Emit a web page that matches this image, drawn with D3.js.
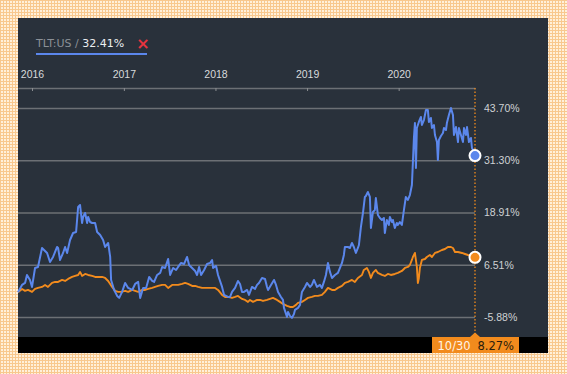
<!DOCTYPE html>
<html>
<head>
<meta charset="utf-8">
<script src="https://cdn.jsdelivr.net/npm/d3@7"></script>
<style>
  html, body { margin: 0; padding: 0; background: #fde6c8; }
  svg { display: block; }
</style>
</head>
<body>
<script>
// data: [decimal year, cumulative return %]
var tltSeries = [
  [2015.847, 0], [2015.891, 1.73], [2015.924, 2.20], [2015.945, 4.09], [2015.978, 2.91],
  [2016.000, 1.25], [2016.033, 5.75], [2016.065, 5.99], [2016.109, 10.49], [2016.131, 10.02],
  [2016.164, 9.31], [2016.196, 7.17], [2016.229, 8.36], [2016.273, 10.73], [2016.284, 10.49],
  [2016.305, 7.65], [2016.338, 9.31], [2016.360, 10.73], [2016.382, 9.31], [2016.414, 12.39],
  [2016.447, 14.05], [2016.480, 14.29], [2016.502, 20.22], [2016.523, 20.69], [2016.545, 16.42],
  [2016.556, 17.85], [2016.578, 18.79], [2016.600, 16.42], [2016.611, 17.85], [2016.632, 16.66],
  [2016.654, 16.42], [2016.687, 16.42], [2016.709, 14.29], [2016.742, 13.57], [2016.774, 12.39],
  [2016.796, 10.73], [2016.829, 11.68], [2016.851, 8.36], [2016.861, 2.91], [2016.894, 0.54],
  [2016.927, -0.88], [2016.949, -1.35], [2016.981, 0.07], [2017.014, 2.20], [2017.047, 1.02],
  [2017.091, 0.54], [2017.123, 1.96], [2017.156, 2.44], [2017.178, -1.35], [2017.210, 1.02],
  [2017.243, 1.02], [2017.276, 3.62], [2017.309, 2.67], [2017.330, 2.44], [2017.363, 4.09],
  [2017.396, 4.57], [2017.418, 5.99], [2017.450, 5.75], [2017.483, 7.88], [2017.505, 4.09],
  [2017.538, 5.75], [2017.570, 5.28], [2017.592, 5.99], [2017.625, 6.94], [2017.658, 6.70],
  [2017.690, 8.36], [2017.712, 6.46], [2017.745, 5.75], [2017.778, 5.04], [2017.799, 4.09],
  [2017.821, 5.99], [2017.843, 4.09], [2017.876, 5.28], [2017.908, 6.70], [2017.941, 6.94],
  [2017.963, 7.65], [2017.974, 5.75], [2018.007, 6.23], [2018.028, 4.09], [2018.072, 1.25],
  [2018.094, -0.64], [2018.137, -1.12], [2018.159, -1.12], [2018.181, 0.07], [2018.214, 1.02],
  [2018.246, 2.67], [2018.268, 1.96], [2018.290, 0.07], [2018.312, 0.07], [2018.345, 0.54],
  [2018.366, -0.64], [2018.399, 1.25], [2018.432, 0.78], [2018.454, 1.73], [2018.475, 2.20],
  [2018.508, 3.38], [2018.541, 3.15], [2018.563, 1.25], [2018.574, 0.54], [2018.606, 1.73],
  [2018.639, 2.91], [2018.661, 1.73], [2018.683, 0.07], [2018.715, -1.12], [2018.737, -1.83],
  [2018.748, -3.72], [2018.770, -5.15], [2018.781, -5.86], [2018.792, -4.67], [2018.813, -5.62],
  [2018.835, -6.09], [2018.857, -5.15], [2018.868, -4.20], [2018.901, -3.72], [2018.923, -3.01],
  [2018.944, 0.07], [2018.977, 1.25], [2018.999, 2.20], [2019.032, 1.25], [2019.053, 1.73],
  [2019.075, 2.91], [2019.108, 1.25], [2019.141, 1.73], [2019.162, 1.02], [2019.184, 2.44],
  [2019.206, 4.09], [2019.228, 6.94], [2019.250, 4.81], [2019.272, 3.38], [2019.304, 4.09],
  [2019.337, 4.57], [2019.381, 6.94], [2019.402, 8.83], [2019.413, 10.73], [2019.446, 10.73],
  [2019.468, 10.49], [2019.490, 11.68], [2019.511, 10.73], [2019.533, 9.31], [2019.555, 10.49],
  [2019.566, 11.20], [2019.588, 15.48], [2019.610, 18.79], [2019.631, 22.59], [2019.642, 22.82],
  [2019.664, 23.77], [2019.686, 22.59], [2019.697, 15.24], [2019.719, 19.03], [2019.740, 19.50],
  [2019.751, 22.35], [2019.773, 18.32], [2019.795, 17.61], [2019.817, 17.13], [2019.839, 17.61],
  [2019.849, 14.05], [2019.871, 17.13], [2019.893, 15.95], [2019.904, 17.85], [2019.926, 16.66],
  [2019.937, 17.13], [2019.958, 15.24], [2019.980, 16.42], [2019.991, 15.95], [2020.013, 16.66],
  [2020.035, 15.95], [2020.057, 19.50], [2020.078, 22.59], [2020.100, 21.88], [2020.122, 23.06],
  [2020.144, 25.43], [2020.155, 30.89], [2020.166, 36.58], [2020.177, 40.14], [2020.188, 29.47],
  [2020.198, 38.96], [2020.220, 40.38], [2020.242, 41.57], [2020.253, 39.67], [2020.275, 40.85],
  [2020.297, 43.23], [2020.318, 43.23], [2020.329, 40.38], [2020.351, 41.33], [2020.362, 38.96],
  [2020.384, 39.67], [2020.395, 37.30], [2020.417, 35.63], [2020.427, 31.36], [2020.438, 36.11],
  [2020.460, 37.06], [2020.482, 37.77], [2020.493, 38.96], [2020.515, 38.48], [2020.525, 40.14],
  [2020.547, 42.04], [2020.569, 43.70], [2020.591, 42.04], [2020.602, 37.30], [2020.624, 39.19],
  [2020.646, 35.63], [2020.656, 38.96], [2020.678, 37.30], [2020.700, 35.63], [2020.711, 38.96],
  [2020.733, 37.30], [2020.744, 39.19], [2020.765, 35.63], [2020.787, 36.58], [2020.798, 34.21],
  [2020.820, 33.30], [2020.831, 32.41]
];

var compareSeries = [
  [2015.847, 0], [2015.891, 0.78], [2015.924, 0.31], [2015.956, 0.54], [2016.000, 0.07],
  [2016.033, 0.78], [2016.065, 1.02], [2016.109, 1.25], [2016.142, 1.73], [2016.174, 1.25],
  [2016.218, 2.20], [2016.251, 2.44], [2016.284, 2.44], [2016.327, 2.91], [2016.360, 2.67],
  [2016.393, 3.15], [2016.436, 3.62], [2016.469, 3.86], [2016.502, 4.09], [2016.523, 4.81],
  [2016.545, 3.86], [2016.578, 4.33], [2016.611, 4.09], [2016.654, 3.86], [2016.687, 3.62],
  [2016.720, 3.62], [2016.763, 3.62], [2016.796, 3.38], [2016.829, 2.67], [2016.872, 1.25],
  [2016.905, 0.31], [2016.938, 0.07], [2016.971, 0.07], [2017.014, 0.31], [2017.047, 0.07],
  [2017.091, 0.54], [2017.123, 0.31], [2017.156, 0.07], [2017.200, 0.54], [2017.232, 0.54],
  [2017.265, 0.78], [2017.309, 1.02], [2017.341, 1.25], [2017.374, 1.49], [2017.418, 1.73],
  [2017.450, 1.73], [2017.483, 1.02], [2017.527, 1.73], [2017.559, 1.73], [2017.592, 1.73],
  [2017.636, 1.96], [2017.668, 2.20], [2017.701, 1.96], [2017.745, 1.49], [2017.778, 1.49],
  [2017.810, 1.25], [2017.854, 1.02], [2017.887, 1.02], [2017.919, 1.02], [2017.963, 1.02],
  [2017.996, 1.02], [2018.028, 0.54], [2018.072, -0.64], [2018.105, -1.12], [2018.137, -1.12],
  [2018.181, -1.35], [2018.214, -1.12], [2018.246, -0.88], [2018.290, -1.59], [2018.323, -1.83],
  [2018.355, -2.30], [2018.377, -1.83], [2018.410, -2.30], [2018.454, -1.83], [2018.486, -1.83],
  [2018.519, -2.07], [2018.563, -1.83], [2018.595, -1.59], [2018.628, -1.35], [2018.672, -1.83],
  [2018.704, -2.30], [2018.737, -2.78], [2018.781, -3.25], [2018.813, -3.49], [2018.846, -3.49],
  [2018.879, -3.01], [2018.901, -2.54], [2018.944, -2.30], [2018.977, -1.83], [2019.010, -1.35],
  [2019.053, -1.12], [2019.086, -0.88], [2019.119, -0.88], [2019.162, -0.64], [2019.195, 0.07],
  [2019.228, 1.02], [2019.272, 0.54], [2019.304, 0.54], [2019.337, 1.02], [2019.381, 1.49],
  [2019.413, 2.20], [2019.446, 2.44], [2019.490, 2.91], [2019.522, 2.44], [2019.555, 3.38],
  [2019.599, 4.09], [2019.620, 5.28], [2019.653, 5.75], [2019.675, 4.81], [2019.697, 3.38],
  [2019.719, 4.57], [2019.751, 5.28], [2019.773, 4.57], [2019.817, 4.09], [2019.849, 3.86],
  [2019.882, 4.33], [2019.915, 4.09], [2019.958, 4.33], [2019.991, 4.57], [2020.035, 5.04],
  [2020.068, 5.75], [2020.100, 5.99], [2020.122, 6.46], [2020.144, 7.65], [2020.155, 8.36],
  [2020.177, 9.31], [2020.198, 5.99], [2020.209, 2.20], [2020.220, 3.38], [2020.231, 5.75],
  [2020.253, 7.65], [2020.286, 7.88], [2020.307, 8.36], [2020.340, 8.83], [2020.362, 8.36],
  [2020.395, 9.31], [2020.427, 9.54], [2020.471, 10.02], [2020.504, 10.25], [2020.536, 10.73],
  [2020.569, 10.73], [2020.591, 10.49], [2020.613, 9.54], [2020.646, 9.54], [2020.689, 9.31],
  [2020.722, 9.07], [2020.755, 8.83], [2020.798, 8.59], [2020.831, 8.27]
];

var yearTicks = [2016, 2017, 2018, 2019, 2020];
var gridValues = [43.70, 31.30, 18.91, 6.51, -5.88];
var legendName = "TLT:US / ";
var legendValue = "32.41%";
var lastDateLabel = "10/30";
var lastCompareLabel = "8.27%";

// decimal year -> Date
function toDate(t) {
  var yr = Math.floor(t);
  var a = new Date(yr, 0, 1), b = new Date(yr + 1, 0, 1);
  return new Date(+a + (t - yr) * (b - a));
}

var W = 567, H = 374;
var blue = "#5b87ec", orange = "#f28b1d";

var svg = d3.select("body").append("svg")
  .attr("width", W)
  .attr("height", H)
  .style("font-family", "'DejaVu Sans', Verdana, sans-serif");

// checkered orange background
var defs = svg.append("defs");
var pat = defs.append("pattern")
  .attr("id", "bg")
  .attr("width", 3).attr("height", 3)
  .attr("patternUnits", "userSpaceOnUse");
pat.append("rect").attr("width", 3).attr("height", 3).attr("fill", "#fff0da");
pat.append("rect").attr("width", 3).attr("height", 1).attr("fill", "#f8c88e");
pat.append("rect").attr("width", 1).attr("height", 3).attr("fill", "#f8c88e");

svg.append("rect").attr("width", W).attr("height", H).attr("fill", "url(#bg)");

// dark panel
svg.append("rect")
  .attr("x", 18).attr("y", 18)
  .attr("width", 530).attr("height", 335)
  .attr("fill", "#29313b");

svg.append("rect")
  .attr("x", 18).attr("y", 337)
  .attr("width", 530).attr("height", 16)
  .attr("fill", "#000");

var x = d3.scaleTime()
  .domain([toDate(tltSeries[0][0]), toDate(tltSeries[tltSeries.length - 1][0])])
  .range([18, 475]);

var y = d3.scaleLinear()
  .domain([-5.88, 43.70])
  .range([317, 108]);

// gridlines + right labels
var yAxis = d3.axisRight(y)
  .tickValues(gridValues)
  .tickSize(-(475 - 18))
  .tickPadding(9)
  .tickFormat(function(d) { return d.toFixed(2) + "%"; });

var gy = svg.append("g")
  .attr("transform", "translate(475,0)")
  .call(yAxis);
gy.select(".domain").remove();
gy.selectAll("line").attr("stroke", "#6c7075").attr("stroke-width", 1.6);
gy.selectAll("text").attr("fill", "#cfd1d4").style("font-size", "10.5px");

// top time axis
var xAxis = d3.axisTop(x)
  .tickValues(yearTicks.map(function(yr) { return new Date(yr, 0, 1); }))
  .tickSize(-3)
  .tickSizeOuter(0)
  .tickPadding(10)
  .tickFormat(d3.timeFormat("%Y"));

var gx = svg.append("g")
  .attr("transform", "translate(0,88)")
  .call(xAxis);
gx.select(".domain").attr("stroke", "#6c7075").attr("stroke-width", 1.6);
gx.selectAll("line").attr("stroke", "#8a8d91");
gx.selectAll("text").attr("fill", "#d8dadc").style("font-size", "10.5px");

// dotted cursor line at last date
var lastX = x(toDate(tltSeries[tltSeries.length - 1][0]));
svg.append("line")
  .attr("x1", lastX).attr("x2", lastX)
  .attr("y1", 88).attr("y2", 337)
  .attr("stroke", orange)
  .attr("stroke-width", 1.3)
  .attr("stroke-dasharray", "1.5,2");

var line = d3.line()
  .x(function(d) { return x(toDate(d[0])); })
  .y(function(d) { return y(d[1]); });

svg.append("path")
  .datum(compareSeries)
  .attr("d", line)
  .attr("fill", "none")
  .attr("stroke", orange)
  .attr("stroke-width", 1.9)
  .attr("stroke-linejoin", "round");

svg.append("path")
  .datum(tltSeries)
  .attr("d", line)
  .attr("fill", "none")
  .attr("stroke", blue)
  .attr("stroke-width", 2)
  .attr("stroke-linejoin", "round");

// end markers
[[tltSeries, blue], [compareSeries, orange]].forEach(function(s) {
  var last = s[0][s[0].length - 1];
  svg.append("circle")
    .attr("cx", x(toDate(last[0])))
    .attr("cy", y(last[1]))
    .attr("r", 5.5)
    .attr("fill", s[1])
    .attr("stroke", "#fff")
    .attr("stroke-width", 2);
});

// legend
var legend = svg.append("text")
  .attr("x", 36).attr("y", 47)
  .style("font-size", "11px");
legend.append("tspan").attr("fill", "#8b9097").text(legendName);
legend.append("tspan").attr("fill", "#eceef0").text(legendValue);

svg.append("text")
  .attr("x", 143).attr("y", 48.5)
  .attr("text-anchor", "middle")
  .attr("fill", "#e8343f")
  .style("font-size", "16px")
  .style("font-weight", "bold")
  .text("\u00d7");

svg.append("rect")
  .attr("x", 36).attr("y", 53)
  .attr("width", 111).attr("height", 2)
  .attr("fill", blue);

// bottom flag
svg.append("rect")
  .attr("x", 432).attr("y", 337)
  .attr("width", 87).attr("height", 16)
  .attr("fill", orange);
svg.append("path")
  .attr("d", "M" + (lastX - 5) + ",337L" + lastX + ",332.5L" + (lastX + 5) + ",337Z")
  .attr("fill", orange);

svg.append("text")
  .attr("x", 437.5).attr("y", 349.5)
  .attr("fill", "#fff3e4")
  .style("font-size", "11.5px")
  .text(lastDateLabel);

svg.append("text")
  .attr("x", 477.5).attr("y", 349.5)
  .attr("fill", "#2a1c0c")
  .style("font-size", "11.5px")
  .text(lastCompareLabel);
</script>
</body>
</html>
